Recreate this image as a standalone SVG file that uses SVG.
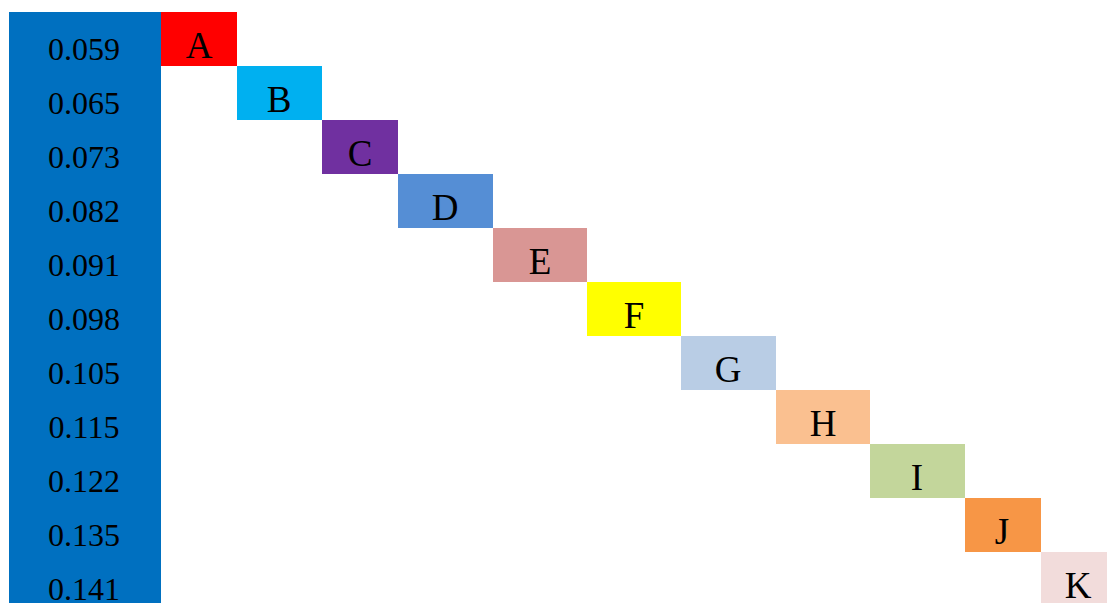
<svg xmlns="http://www.w3.org/2000/svg" width="1107" height="603" viewBox="0 0 1107 603">
  <style>
    .num { font-family: "Liberation Serif", "Times New Roman", serif; font-size: 32px; fill: #000; text-anchor: middle; }
    .lbl { font-family: "Liberation Serif", "Times New Roman", serif; font-size: 37px; fill: #000; text-anchor: middle; }
  </style>
  <rect width="1107" height="603" fill="#ffffff"/>

  <!-- value column -->
  <g id="scale">
    <rect x="9" y="12" width="152" height="591" fill="#0070C0"/>
    <text class="num" x="84" y="60">0.059</text>
    <text class="num" x="84" y="114">0.065</text>
    <text class="num" x="84" y="168">0.073</text>
    <text class="num" x="84" y="222">0.082</text>
    <text class="num" x="84" y="276">0.091</text>
    <text class="num" x="84" y="330">0.098</text>
    <text class="num" x="84" y="384">0.105</text>
    <text class="num" x="84" y="438">0.115</text>
    <text class="num" x="84" y="492">0.122</text>
    <text class="num" x="84" y="546">0.135</text>
    <text class="num" x="84" y="600">0.141</text>
  </g>

  <!-- staircase of labelled cells -->
  <g id="node-A"><rect x="161" y="12" width="76" height="54" fill="#FF0000"/><text class="lbl" x="199" y="58">A</text></g>
  <g id="node-B"><rect x="237" y="66" width="85" height="54" fill="#00B0F0"/><text class="lbl" x="279" y="112">B</text></g>
  <g id="node-C"><rect x="322" y="120" width="76" height="54" fill="#7030A0"/><text class="lbl" x="360" y="166">C</text></g>
  <g id="node-D"><rect x="398" y="174" width="95" height="54" fill="#558ED5"/><text class="lbl" x="445" y="220">D</text></g>
  <g id="node-E"><rect x="493" y="228" width="94" height="54" fill="#D99694"/><text class="lbl" x="540" y="274">E</text></g>
  <g id="node-F"><rect x="587" y="282" width="94" height="54" fill="#FFFF00"/><text class="lbl" x="634" y="328">F</text></g>
  <g id="node-G"><rect x="681" y="336" width="95" height="54" fill="#B9CDE5"/><text class="lbl" x="728" y="382">G</text></g>
  <g id="node-H"><rect x="776" y="390" width="94" height="54" fill="#FAC090"/><text class="lbl" x="823" y="436">H</text></g>
  <g id="node-I"><rect x="870" y="444" width="95" height="54" fill="#C3D69B"/><text class="lbl" x="917" y="490">I</text></g>
  <g id="node-J"><rect x="965" y="498" width="76" height="54" fill="#F79646"/><text class="lbl" x="1002" y="544">J</text></g>
  <g id="node-K"><rect x="1041" y="552" width="66" height="51" fill="#F2DCDB"/><text class="lbl" x="1078" y="598">K</text></g>

  <g id="connectors"/>
</svg>
